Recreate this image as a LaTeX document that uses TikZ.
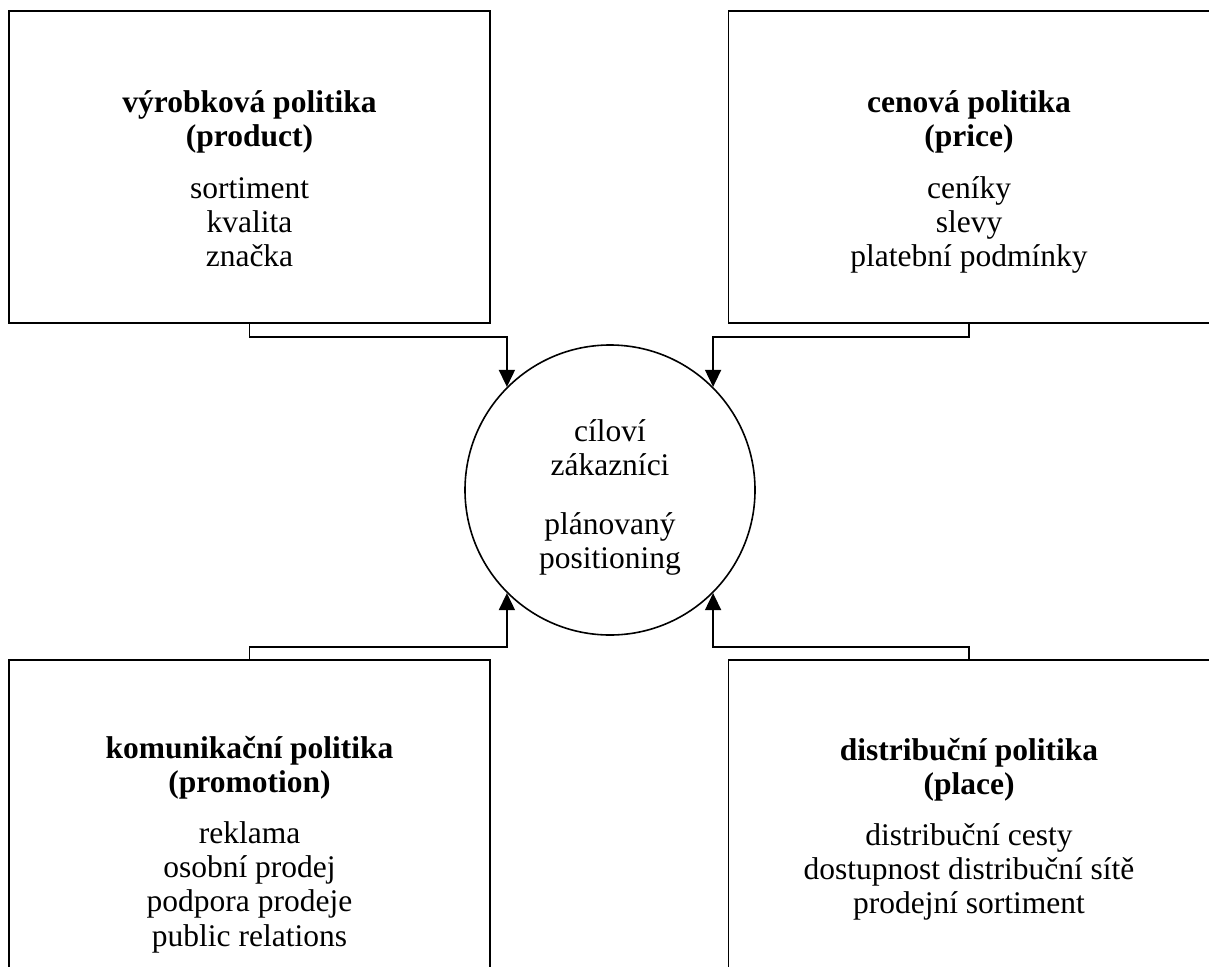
\documentclass[tikz,border=0pt]{standalone}
\usepackage{fontspec}
\setmainfont{Liberation Serif}
\usetikzlibrary{arrows.meta}
\begin{document}
\begin{tikzpicture}[x=1pt,y=1pt,
  box/.style={draw=black, line width=1.6pt, rectangle, minimum width=481pt, inner sep=0pt},
  hub/.style={draw=black, line width=1.6pt, circle, minimum size=290pt, inner sep=0pt},
  conn/.style={draw=black, line width=1.6pt, -{Triangle[length=17pt,width=16pt]}},
  ttl/.style={anchor=base, inner sep=0pt, font=\fontsize{31.5}{35}\selectfont\bfseries},
  txt/.style={anchor=base, inner sep=0pt, font=\fontsize{31.5}{35}\selectfont}]
\useasboundingbox (0,0) rectangle (1209,-966);
\clip (0,0) rectangle (1209,-966);
\fill[white] (0,0) rectangle (1209,-966);
% boxes
\node[box, minimum height=312pt] (tl) at (249.5,-167) {};
\node[box, minimum height=312pt] (tr) at (969,-167) {};
\node[box, minimum height=400pt] (bl) at (249.5,-860) {};
\node[box, minimum height=400pt] (br) at (969,-860) {};
\node[hub] (c) at (610,-490) {};
% top-left texts
\node[ttl] (tl1) at (249.5,-112) {výrobková politika};
\node[ttl] (tl2) at (249.5,-146) {(product)};
\node[txt] (tl3) at (249.5,-198) {sortiment};
\node[txt] (tl4) at (249.5,-232) {kvalita};
\node[txt] (tl5) at (249.5,-266) {značka};
% top-right texts
\node[ttl] (tr1) at (969,-112) {cenová politika};
\node[ttl] (tr2) at (969,-146) {(price)};
\node[txt] (tr3) at (969,-198) {ceníky};
\node[txt] (tr4) at (969,-232) {slevy};
\node[txt] (tr5) at (969,-266) {platební podmínky};
% circle texts
\node[txt] (c1) at (610,-441) {cíloví};
\node[txt] (c2) at (610,-475) {zákazníci};
\node[txt] (c3) at (610,-534) {plánovaný};
\node[txt] (c4) at (610,-568) {positioning};
% bottom-left texts
\node[ttl] (bl1) at (249.5,-758) {komunikační politika};
\node[ttl] (bl2) at (249.5,-792) {(promotion)};
\node[txt] (bl3) at (249.5,-843) {reklama};
\node[txt] (bl4) at (249.5,-877) {osobní prodej};
\node[txt] (bl5) at (249.5,-911) {podpora prodeje};
\node[txt] (bl6) at (249.5,-946) {public relations};
% bottom-right texts
\node[ttl] (br1) at (969,-760) {distribuční politika};
\node[ttl] (br2) at (969,-794) {(place)};
\node[txt] (br3) at (969,-845) {distribuční cesty};
\node[txt] (br4) at (969,-879) {dostupnost distribuční sítě};
\node[txt] (br5) at (969,-913) {prodejní sortiment};
% connectors
\draw[conn] (tl.south) -- ++(0,-13) -| (c.north west);
\draw[conn] (tr.south) -- ++(0,-13) -| (c.north east);
\draw[conn] (bl.north) -- ++(0,12) -| (c.south west);
\draw[conn] (br.north) -- ++(0,12) -| (c.south east);
\end{tikzpicture}
\end{document}
